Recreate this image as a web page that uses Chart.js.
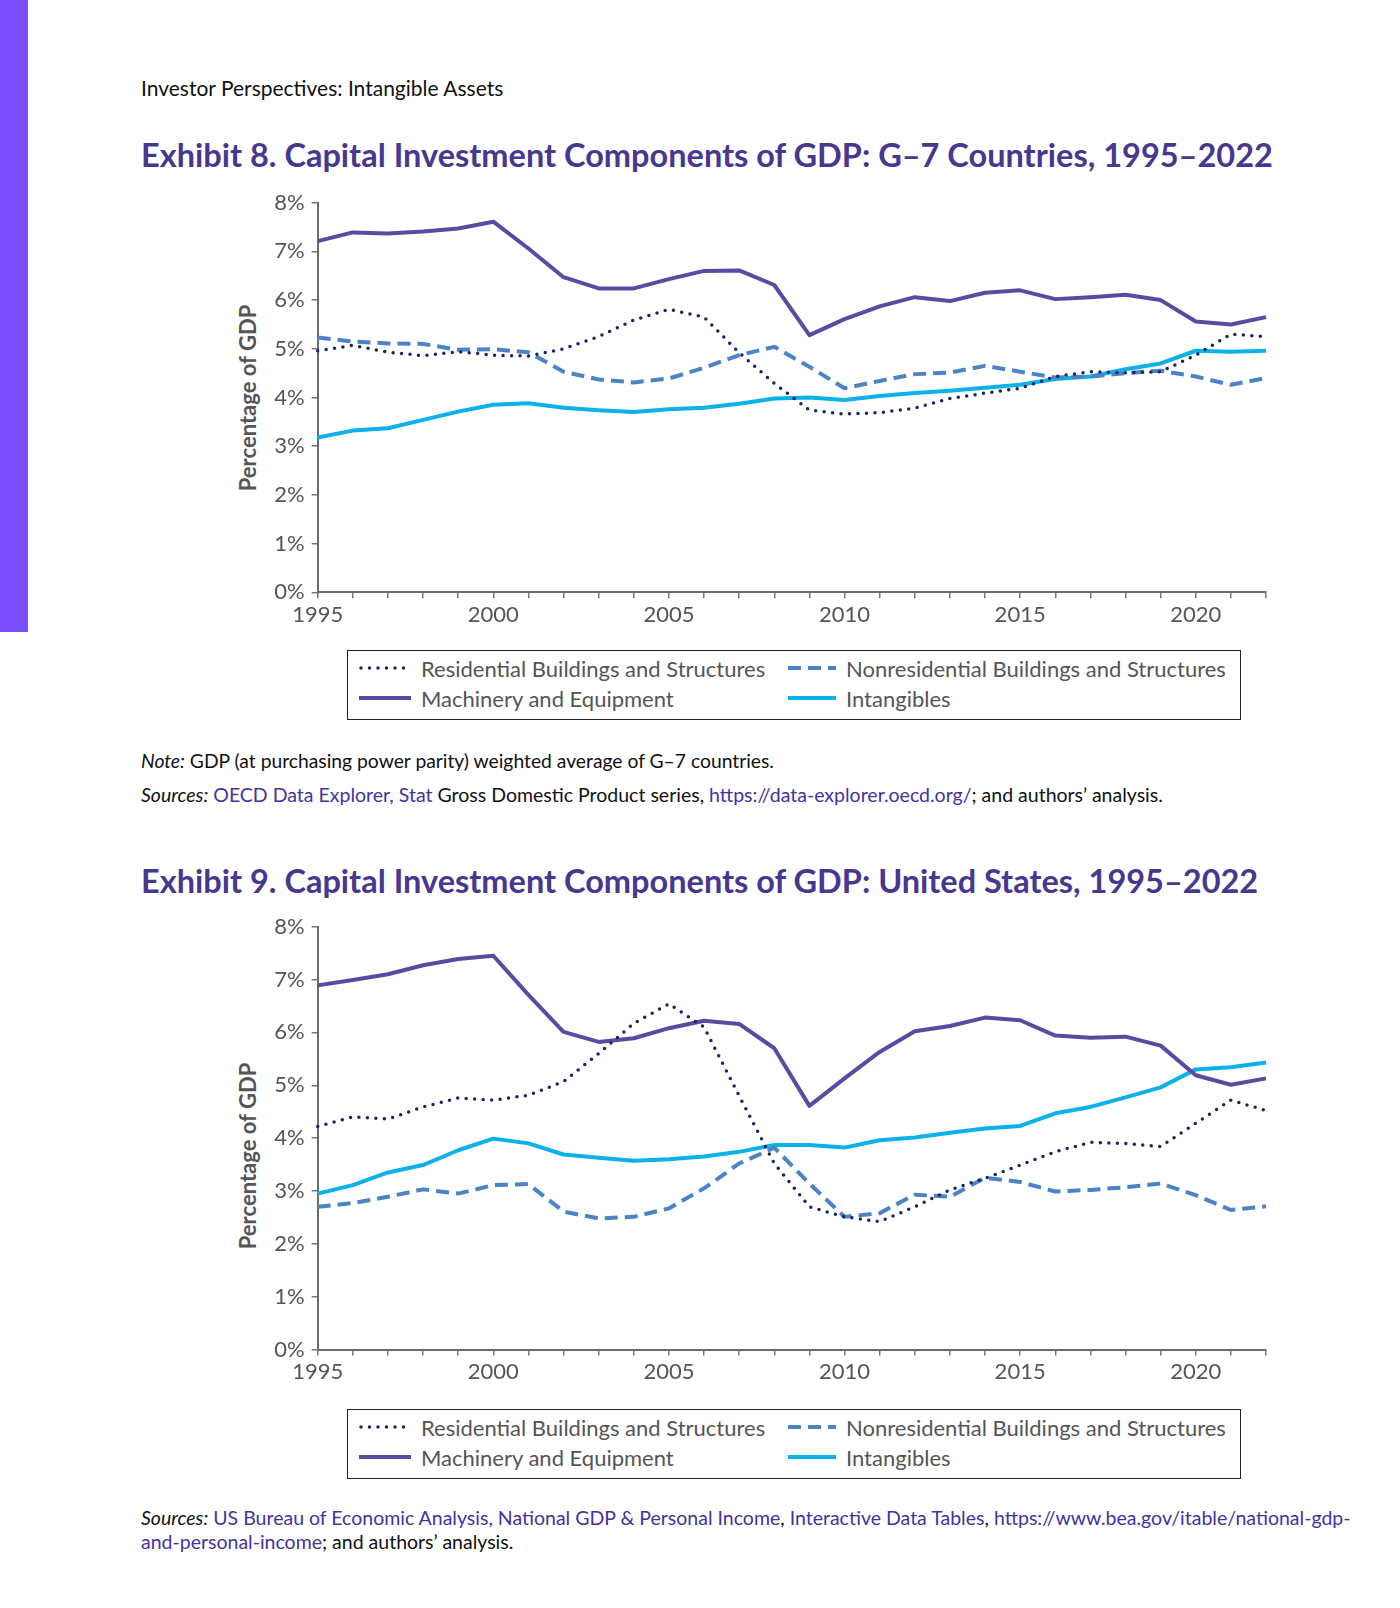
<!DOCTYPE html>
<html>
<head>
<meta charset="utf-8">
<script src="https://cdn.jsdelivr.net/npm/chart.js@4.4.1/dist/chart.umd.min.js"></script>
<style>
  body { margin: 0; width: 1400px; height: 1608px; background: #fff; position: relative; overflow: hidden; font-family: Lato, sans-serif; }
  .bar { position: absolute; left: 0; top: 0; width: 28px; height: 632px; background: #7c4dff; }
  .abs { position: absolute; white-space: nowrap; transform: translateY(-50%); }
  .header { left: 141px; top: 87px; font-size: 21px; color: #111; }
  .title { left: 141px; font-size: 32.5px; font-weight: 700; color: #48378f; }
  .ytitle { position: absolute; white-space: nowrap; font-size: 22px; font-weight: 700; color: #555;
    transform: translate(-50%, -50%) rotate(-90deg); }
  .chart { position: absolute; left: 240px; }
  .legend { position: absolute; left: 347px; width: 894px; height: 70px; border: 1.5px solid #222; box-sizing: border-box; }
  .legend .item { position: absolute; height: 20px; transform: translateY(-50%); font-size: 22px; color: #555; white-space: nowrap; }
  .legend svg { position: absolute; left: 0; top: 0; }
  .legend span { position: absolute; top: 50%; transform: translateY(-50%); }
  .note { left: 141px; font-size: 19.3px; color: #111; }
  .note.src { font-size: 19.5px; }
  .note a { color: #4433a0; text-decoration: none; }
</style>
</head>
<body>
<div class="bar"></div>
<div class="abs header">Investor Perspectives: Intangible Assets</div>

<div class="abs title" style="top:154px">Exhibit 8. Capital Investment Components of GDP: G–7 Countries, 1995–2022</div>
<div class="ytitle" style="left:247px; top:398px">Percentage of GDP</div>
<canvas id="chartG7" class="chart" width="1060" height="460" style="top:180px"></canvas>
<div class="legend" id="legendG7" style="top:650px"></div>

<div class="abs note" style="top:760px"><i>Note:</i> GDP (at purchasing power parity) weighted average of G–7 countries.</div>
<div class="abs note src" style="top:794px"><i>Sources:</i> <a>OECD Data Explorer, Stat</a> Gross Domestic Product series, <a>https://data-explorer.oecd.org/</a>; and authors’ analysis.</div>

<div class="abs title" style="top:880px">Exhibit 9. Capital Investment Components of GDP: United States, 1995–2022</div>
<div class="ytitle" style="left:247px; top:1156px">Percentage of GDP</div>
<canvas id="chartUS" class="chart" width="1060" height="490" style="top:905px"></canvas>
<div class="legend" id="legendUS" style="top:1409px"></div>

<div class="abs note src" style="top:1517px"><i>Sources:</i> <a>US Bureau of Economic Analysis, National GDP &amp; Personal Income</a>, <a>Interactive Data Tables</a>, <a>https://www.bea.gov/itable/national-gdp-</a></div>
<div class="abs note src" style="top:1541px"><a>and-personal-income</a>; and authors’ analysis.</div>

<script>
// Данные
const years = ["1995", "1996", "1997", "1998", "1999", "2000", "2001", "2002", "2003", "2004",
  "2005", "2006", "2007", "2008", "2009", "2010", "2011", "2012", "2013", "2014",
  "2015", "2016", "2017", "2018", "2019", "2020", "2021", "2022"];
const xTickLabels = ["1995", "2000", "2005", "2010", "2015", "2020"];
const yTickValues = [0, 1, 2, 3, 4, 5, 6, 7, 8];

const seriesNames = ["Residential Buildings and Structures", "Nonresidential Buildings and Structures",
  "Machinery and Equipment", "Intangibles"];

// G-7
const g7Residential = [4.96, 5.07, 4.93, 4.86, 4.94, 4.87, 4.85, 5.00, 5.25, 5.59, 5.81, 5.65, 4.92, 4.29,
  3.74, 3.66, 3.69, 3.78, 3.98, 4.09, 4.19, 4.43, 4.53, 4.51, 4.53, 4.87, 5.30, 5.25];
const g7Nonresidential = [5.23, 5.15, 5.11, 5.10, 4.98, 4.99, 4.93, 4.53, 4.37, 4.31, 4.39, 4.61, 4.87, 5.04,
  4.63, 4.19, 4.34, 4.48, 4.51, 4.65, 4.53, 4.41, 4.43, 4.50, 4.55, 4.43, 4.26, 4.40];
const g7Machinery = [7.21, 7.39, 7.37, 7.41, 7.47, 7.61, 7.06, 6.47, 6.24, 6.24, 6.43, 6.60, 6.61, 6.31,
  5.28, 5.61, 5.87, 6.06, 5.98, 6.15, 6.20, 6.02, 6.06, 6.11, 6.00, 5.56, 5.50, 5.65];
const g7Intangibles = [3.18, 3.32, 3.37, 3.54, 3.71, 3.85, 3.88, 3.79, 3.74, 3.70, 3.76, 3.79, 3.87, 3.98,
  4.00, 3.95, 4.03, 4.09, 4.14, 4.20, 4.26, 4.38, 4.43, 4.58, 4.70, 4.96, 4.94, 4.96];

// United States
const usResidential = [4.22, 4.40, 4.36, 4.59, 4.76, 4.72, 4.81, 5.07, 5.60, 6.17, 6.54, 6.10, 4.80, 3.52,
  2.70, 2.51, 2.42, 2.70, 3.02, 3.24, 3.49, 3.74, 3.92, 3.90, 3.84, 4.28, 4.72, 4.52];
const usNonresidential = [2.70, 2.77, 2.89, 3.03, 2.95, 3.11, 3.13, 2.61, 2.48, 2.51, 2.67, 3.05, 3.52, 3.82,
  3.14, 2.51, 2.58, 2.93, 2.89, 3.25, 3.17, 2.99, 3.02, 3.07, 3.14, 2.92, 2.64, 2.71];
const usMachinery = [6.89, 6.99, 7.10, 7.27, 7.39, 7.45, 6.71, 6.01, 5.82, 5.89, 6.08, 6.22, 6.16, 5.70,
  4.61, 5.13, 5.63, 6.02, 6.12, 6.28, 6.23, 5.94, 5.90, 5.92, 5.75, 5.19, 5.01, 5.13];
const usIntangibles = [2.95, 3.11, 3.35, 3.49, 3.77, 3.99, 3.90, 3.69, 3.63, 3.57, 3.60, 3.65, 3.74, 3.87,
  3.87, 3.82, 3.96, 4.01, 4.10, 4.18, 4.23, 4.47, 4.59, 4.77, 4.96, 5.30, 5.34, 5.43];

// Стили линий
const lineStyles = [
  { color: "#172465", width: 3.5, dash: [0, 8.5], cap: "round" },
  { color: "#4a84c6", width: 4, dash: [13, 7], cap: "butt" },
  { color: "#5a4aa2", width: 4, dash: [], cap: "butt" },
  { color: "#0bb2ea", width: 4, dash: [], cap: "butt" },
];

const axisFont = { family: "Lato", size: 22 };

function makeChart(id, values, pad) {
  const ctx = document.getElementById(id).getContext("2d");
  return new Chart(ctx, {
    type: "line",
    data: {
      labels: years,
      datasets: values.map((data, i) => ({
        label: seriesNames[i],
        data: data,
        borderColor: lineStyles[i].color,
        borderWidth: lineStyles[i].width,
        borderDash: lineStyles[i].dash,
        borderCapStyle: lineStyles[i].cap,
        borderJoinStyle: "round",
        pointRadius: 0,
        tension: 0,
        fill: false,
      })),
    },
    options: {
      responsive: false,
      animation: false,
      layout: { padding: { top: pad.top, right: 34, bottom: pad.bottom, left: 0 } },
      plugins: { legend: { display: false }, tooltip: { enabled: false } },
      scales: {
        x: {
          offset: false,
          grid: { drawOnChartArea: false, tickLength: 6, color: "#777", lineWidth: 1.5, offset: false },
          border: { color: "#6b6b6b", width: 2 },
          ticks: {
            autoSkip: false,
            maxRotation: 0,
            padding: 3,
            color: "#555",
            font: axisFont,
            callback: function (v, i) {
              return xTickLabels.includes(years[i]) ? years[i] : "";
            },
          },
          afterFit: (s) => { s.height = 40; },
        },
        y: {
          min: yTickValues[0],
          max: yTickValues[yTickValues.length - 1],
          grid: { drawOnChartArea: false, tickLength: 6, color: "#777", lineWidth: 1.5 },
          border: { color: "#6b6b6b", width: 2 },
          ticks: {
            stepSize: 1,
            padding: 7,
            color: "#555",
            font: axisFont,
            callback: (v) => v + "%",
          },
          afterFit: (s) => { s.width = 77.7; },
        },
      },
    },
  });
}

// Легенда
function makeLegend(id) {
  const box = document.getElementById(id);
  const pos = [[11, 16.5], [440, 16.5], [11, 47], [440, 47]];
  [0, 1, 2, 3].forEach((i, k) => {
    const st = lineStyles[i];
    const item = document.createElement("div");
    item.className = "item";
    item.style.left = pos[k][0] + "px";
    item.style.top = pos[k][1] + "px";
    const w = i % 2 === 0 ? 52 : 48;
    item.innerHTML =
      `<svg width="${w}" height="20"><line x1="${st.cap === "round" ? 2 : 0}" y1="10" x2="${w}" y2="10" stroke="${st.color}" ` +
      `stroke-width="${st.width}" stroke-dasharray="${st.dash.join(" ")}" stroke-linecap="${st.cap}"/></svg>` +
      `<span style="left:${w + 10}px">${seriesNames[i]}</span>`;
    box.appendChild(item);
  });
}

makeChart("chartG7", [g7Residential, g7Nonresidential, g7Machinery, g7Intangibles], { top: 22.7, bottom: 7.7 });
makeChart("chartUS", [usResidential, usNonresidential, usMachinery, usIntangibles], { top: 21.7, bottom: 5.5 });
makeLegend("legendG7");
makeLegend("legendUS");
</script>
</body>
</html>
